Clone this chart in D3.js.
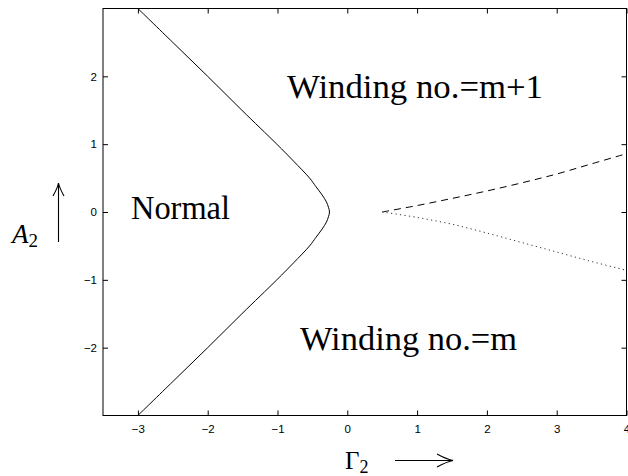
<!DOCTYPE html>
<html>
<head>
<meta charset="utf-8">
<script src="https://cdn.jsdelivr.net/npm/d3@7"></script>
<style>
  body { margin: 0; background: #fff; }
  .tick text { font-family: "Liberation Sans", Arial, sans-serif; font-size: 11.5px; fill: #000; }
  .lbl { font-family: "Liberation Serif", "Times New Roman", serif; fill: #000; }
</style>
</head>
<body>
<div id="chart"></div>
<script>
// Data
var xTicks = [-3, -2, -1, 0, 1, 2, 3, 4];
var yTicks = [-2, -1, 0, 1, 2];

// solid boundary: A2 values and matching Gamma2 values
var boundaryA = [-3, -2.5, -2, -1.5, -1, -0.75, -0.5, -0.375, -0.25, -0.15, -0.07, 0,
                 0.07, 0.15, 0.25, 0.375, 0.5, 0.75, 1, 1.5, 2, 2.5, 3];
var boundaryG = [-3.0, -2.5, -2.0, -1.51, -1.01, -0.77, -0.54, -0.45, -0.36, -0.30, -0.27, -0.255,
                 -0.27, -0.30, -0.36, -0.45, -0.54, -0.77, -1.01, -1.51, -2.0, -2.5, -3.0];

// dashed (upper) and dotted (lower) branches
var branchG = [0.5, 1, 1.5, 2, 2.5, 3, 3.5, 4];
var upperA  = [0, 0.095, 0.2, 0.31, 0.43, 0.56, 0.71, 0.86];
var lowerA  = [0, -0.08, -0.18, -0.31, -0.45, -0.59, -0.73, -0.86];

var width = 628, height = 476;
var plotL = 103, plotR = 626.5, plotT = 8.5, plotB = 415.5;

var x = d3.scaleLinear().domain([-3.5, 4]).range([plotL, plotR]);
var y = d3.scaleLinear().domain([-3, 3]).range([plotB, plotT]);

var svg = d3.select("#chart").append("svg")
    .attr("width", width)
    .attr("height", height);

var fmt = d3.format("d");

// axes, ticks pointing inward
svg.append("g")
    .attr("transform", "translate(0," + plotB + ")")
    .call(d3.axisBottom(x).tickValues(xTicks).tickFormat(fmt).tickSizeInner(-5).tickSizeOuter(0).tickPadding(9.5));
svg.append("g")
    .attr("transform", "translate(0," + plotT + ")")
    .call(d3.axisTop(x).tickValues(xTicks).tickSizeInner(-5).tickSizeOuter(0).tickFormat(""));
svg.append("g")
    .attr("transform", "translate(" + plotL + ",0)")
    .call(d3.axisLeft(y).tickValues(yTicks).tickFormat(fmt).tickSizeInner(-5).tickSizeOuter(0).tickPadding(6));
svg.append("g")
    .attr("transform", "translate(" + plotR + ",0)")
    .call(d3.axisRight(y).tickValues(yTicks).tickSizeInner(-5).tickSizeOuter(0).tickFormat(""));

svg.selectAll(".domain").remove();
svg.selectAll(".tick line").attr("stroke", "#000");

// frame
svg.append("rect")
    .attr("x", plotL).attr("y", plotT)
    .attr("width", plotR - plotL).attr("height", plotB - plotT)
    .attr("fill", "none").attr("stroke", "#000").attr("stroke-width", 1);

var line = d3.line()
    .x(function(d) { return x(d[0]); })
    .y(function(d) { return y(d[1]); })
    .curve(d3.curveCatmullRom);

svg.append("path")
    .datum(boundaryA.map(function(a, i) { return [boundaryG[i], a]; }))
    .attr("d", line)
    .attr("fill", "none").attr("stroke", "#000").attr("stroke-width", 1);

svg.append("path")
    .datum(branchG.map(function(g, i) { return [g, upperA[i]]; }))
    .attr("d", line)
    .attr("fill", "none").attr("stroke", "#000").attr("stroke-width", 1)
    .attr("stroke-dasharray", "7,5");

svg.append("path")
    .datum(branchG.map(function(g, i) { return [g, lowerA[i]]; }))
    .attr("d", line)
    .attr("fill", "none").attr("stroke", "#333").attr("stroke-width", 1)
    .attr("stroke-dasharray", "1.2,3.3");

// region labels
svg.append("text").attr("class", "lbl").attr("x", 287).attr("y", 98)
    .attr("textLength", 256).attr("lengthAdjust", "spacingAndGlyphs")
    .style("font-size", "34px").text("Winding no.=m+1");
svg.append("text").attr("class", "lbl").attr("x", 131).attr("y", 219)
    .attr("textLength", 99).attr("lengthAdjust", "spacingAndGlyphs")
    .style("font-size", "33px").text("Normal");
svg.append("text").attr("class", "lbl").attr("x", 300).attr("y", 350)
    .attr("textLength", 217).attr("lengthAdjust", "spacingAndGlyphs")
    .style("font-size", "34px").text("Winding no.=m");

// x label: Gamma_2 with arrow
var gx = svg.append("text").attr("class", "lbl").attr("x", 345).attr("y", 469)
    .style("font-size", "25px");
gx.append("tspan").text("Γ");
gx.append("tspan").attr("dy", 4).style("font-size", "18px").text("2");

svg.append("path")
    .attr("d", "M395,460.5 L452,460.5 M437,454 Q446,459 453,460.5 Q446,462 437,467")
    .attr("fill", "none").attr("stroke", "#000").attr("stroke-width", 1.1);

// y label: A_2 with arrow
var ay = svg.append("text").attr("class", "lbl").attr("x", 12).attr("y", 243)
    .style("font-size", "27px").style("font-style", "italic");
ay.append("tspan").text("A");
ay.append("tspan").attr("dy", 4).style("font-size", "19px").style("font-style", "normal").text("2");

svg.append("path")
    .attr("d", "M58.5,242 L58.5,184 M53,196 Q57.5,188 58.5,183 Q59.5,188 64,196")
    .attr("fill", "none").attr("stroke", "#000").attr("stroke-width", 1.1);
</script>
</body>
</html>
